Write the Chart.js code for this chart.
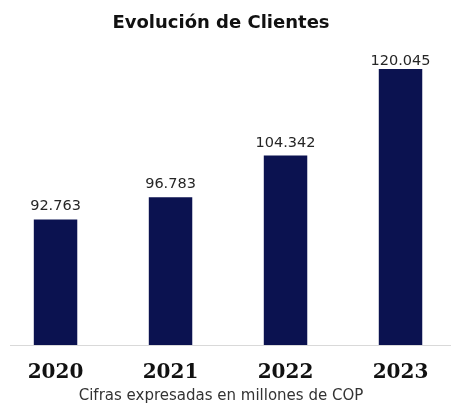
<!DOCTYPE html>
<html lang="es">
<head>
<meta charset="utf-8">
<title>Evolución de Clientes</title>
<script src="https://cdn.jsdelivr.net/npm/chart.js@4.4.1/dist/chart.umd.min.js"></script>
<style>
    html, body {
        margin: 0;
        padding: 0;
        background: #ffffff;
        overflow: hidden;
    }
    .chart-box {
        position: relative;
        width: 460px;
        height: 404px;
        margin-left: -9px;
    }
</style>
</head>
<body>
<div class="chart-box">
    <canvas id="clientes"></canvas>
</div>
<script>
const years = ['2020', '2021', '2022', '2023'];
const clientes = [92763, 96783, 104342, 120045];

const barColor = '#0b1250';

function formatMiles(v) {
    return String(v).replace(/\B(?=(\d{3})+(?!\d))/g, '.');
}

// numeros encima de cada barra
const valueLabels = {
    id: 'valueLabels',
    afterDatasetsDraw(chart) {
        const ctx = chart.ctx;
        const meta = chart.getDatasetMeta(0);
        const area = chart.chartArea;
        ctx.save();
        ctx.font = '14.5px "DejaVu Sans"';
        ctx.fillStyle = '#262626';
        ctx.textAlign = 'center';
        ctx.textBaseline = 'alphabetic';
        meta.data.forEach(function (bar, i) {
            let y = bar.y - 9;
            if (y < area.top + 12) {
                y = area.top + 12;
            }
            ctx.fillText(formatMiles(clientes[i]), bar.x, y);
        });
        ctx.restore();
    }
};

document.addEventListener('DOMContentLoaded', function () {
    new Chart('clientes', {
        type: 'bar',
        data: {
            datasets: [{
                label: 'Clientes',
                data: clientes.map(function (v, i) { return { x: i, y: v }; }),
                backgroundColor: barColor,
                borderWidth: 0,
                categoryPercentage: 1,
                barPercentage: 0.378,
            }]
        },
        plugins: [valueLabels],
        options: {
            responsive: true,
            maintainAspectRatio: false,
            animation: false,
            layout: {
                padding: 0
            },
            plugins: {
                legend: { display: false },
                tooltip: { enabled: false },
                title: {
                    display: true,
                    text: 'Evolución de Clientes',
                    color: '#111111',
                    font: { family: 'DejaVu Sans', size: 18, weight: 'bold', lineHeight: 1.2 },
                    padding: { top: 13, bottom: 18 }
                },
                subtitle: {
                    display: true,
                    position: 'bottom',
                    text: 'Cifras expresadas en millones de COP',
                    color: '#333333',
                    font: { family: 'DejaVu Sans', size: 15, lineHeight: 1 },
                    padding: { top: 0, bottom: 0 }
                }
            },
            scales: {
                x: {
                    type: 'linear',
                    offset: false,
                    bounds: 'data',
                    min: -0.396,
                    max: 3.439,
                    grid: { display: false, drawTicks: false, offset: false },
                    border: { display: true, color: '#d9d9d9', width: 1 },
                    afterBuildTicks: function (scale) {
                        // one tick per year, at the bar positions
                        scale.ticks = years.map(function (y, i) { return { value: i }; });
                    },
                    afterFit: function (scale) {
                        scale.height = 44;
                    },
                    ticks: {
                        autoSkip: false,
                        maxRotation: 0,
                        minRotation: 0,
                        padding: 16,
                        color: '#111111',
                        font: { family: 'DejaVu Serif', size: 20, weight: 'bold', lineHeight: 1.2 },
                        callback: function (value) {
                            return years[value];
                        }
                    }
                },
                y: {
                    min: 70000,
                    max: 123000,
                    grid: { display: false, drawTicks: false },
                    border: { display: false },
                    ticks: { display: false },
                    afterFit: function (scale) {
                        scale.width = 19;
                    }
                }
            }
        }
    });
});
</script>
</body>
</html>
